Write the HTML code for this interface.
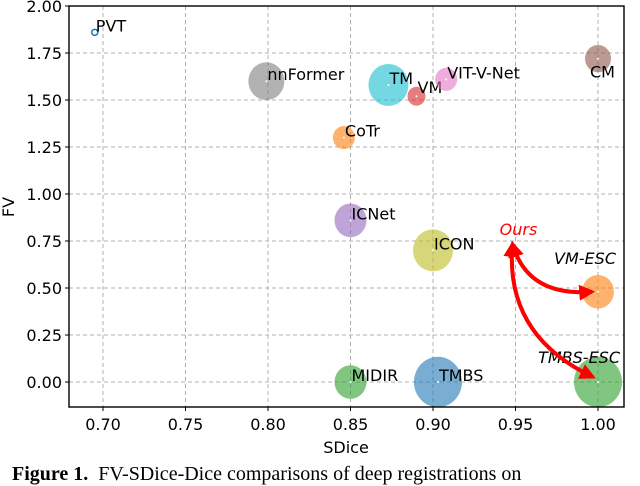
<!DOCTYPE html>
<html><head><meta charset="utf-8"><style>
body{margin:0;background:#fff;width:640px;height:481px;overflow:hidden}
text{font-family:"DejaVu Sans","Liberation Sans",sans-serif}
</style></head><body>
<svg id="chart" width="640" height="481" xmlns="http://www.w3.org/2000/svg">
<defs>
<marker id="ah" viewBox="0 0 10 10" refX="8" refY="5" markerWidth="4" markerHeight="4" orient="auto-start-reverse"><path d="M0,0L10,5L0,10z" fill="#ff0000"/></marker>
</defs>
<g id="grid"></g>
<g id="marks"></g>
<g id="axes"></g>
</svg>
<script>
const names=["PVT","nnFormer","TM","VM","VIT-V-Net","CM","CoTr","ICNet","ICON","VM-ESC","MIDIR","TMBS","TMBS-ESC"];
const sdice=[0.695,0.799,0.873,0.890,0.908,1.0,0.846,0.850,0.900,1.0,0.850,0.903,1.0];
const fv=[1.86,1.60,1.58,1.52,1.61,1.72,1.30,0.86,0.70,0.48,0.0,0.0,0.0];
const sizes=[3,18,20,9,11,13,11,16,20,16,16,24,24];
const colors=["#1f77b4","#7f7f7f","#17becf","#d62728","#e377c2","#8c564b","#ff7f0e","#9467bd","#bcbd22","#ff7f0e","#2ca02c","#1f77b4","#2ca02c"];
const xTicks=[0.70,0.75,0.80,0.85,0.90,0.95,1.00];
const yTicks=[0.00,0.25,0.50,0.75,1.00,1.25,1.50,1.75,2.00];
const L=69,R=624,T=6,B=407;
const X=v=>103+(v-0.70)/0.05*82.5;
const Y=v=>382-v/0.25*47;
const NS="http://www.w3.org/2000/svg";
function mk(tag,attrs,parent,txt){const e=document.createElementNS(NS,tag);for(const k in attrs)e.setAttribute(k,attrs[k]);if(txt!==undefined)e.textContent=txt;parent.appendChild(e);return e;}
const grid=document.getElementById('grid'),marks=document.getElementById('marks'),axes=document.getElementById('axes');
xTicks.forEach(t=>{const l=mk('line',{x1:X(t),x2:X(t),y1:T,y2:B,stroke:'#b0b0b0','stroke-dasharray':'4,3','stroke-width':1},grid);


mk('line',{x1:X(t),x2:X(t),y1:B,y2:B+4,stroke:'#000'},axes);
const tx=mk('text',{x:X(t),y:B+23,'text-anchor':'middle','font-size':16,fill:'#000'},axes,t.toFixed(2));

});
yTicks.forEach(t=>{const l=mk('line',{x1:L,x2:R,y1:Y(t),y2:Y(t),stroke:'#b0b0b0','stroke-dasharray':'4,3','stroke-width':1},grid);


mk('line',{x1:L-4,x2:L,y1:Y(t),y2:Y(t),stroke:'#000'},axes);
const tx=mk('text',{x:L-7,y:Y(t)+6,'text-anchor':'end','font-size':16,fill:'#000'},axes,t.toFixed(2));

});
const frame=mk('rect',{x:L,y:T,width:R-L,height:B-T,fill:'none',stroke:'#000','stroke-width':1.4},axes);


const xl=mk('text',{x:346,y:453,'text-anchor':'middle','font-size':16},axes,'SDice');


const yl=mk('text',{x:14,y:207,'text-anchor':'middle','font-size':16,transform:'rotate(-90 14 207)'},axes,'FV');


names.forEach((n,i)=>{const cx=X(sdice[i]),cy=Y(fv[i]);
let c;
if(i===0){c=mk('circle',{cx,cy,r:3,fill:'none',stroke:colors[i],'stroke-width':1.5},marks);}
else{c=mk('ellipse',{cx,cy,rx:sizes[i],ry:sizes[i]*1.05,fill:colors[i],'fill-opacity':0.6},marks);}


mk('circle',{cx,cy,r:1,fill:'#fff'},marks);
let tx,ty,anchor='start',style='normal';
if(n==="CM"){tx=cx-8;ty=cy+19;}
else if(n==="VM-ESC"){tx=cx+18;ty=cy-28;anchor='end';style='italic';}
else if(n==="TMBS-ESC"){tx=cx+22;ty=cy-19;anchor='end';style='italic';}
else {tx=cx+1;ty=cy-1;}
if(n==="VM"){tx=cx+1;ty=cy-3;}
const t=mk('text',{x:tx,y:ty,'font-size':16,'text-anchor':anchor,'font-style':style,fill:'#000'},marks,n);

});
const ours=mk('text',{x:X(0.95)+3,y:Y(0.77)-2,'font-size':16,'font-style':'italic','text-anchor':'middle',fill:'#ff0000'},marks,'Ours');


const ox=X(0.95)-3,oy=Y(0.75)+3;
const a1=mk('path',{d:`M${X(1.0)-6},${Y(0.48)} Q${ox+15},${Y(0.48)+5} ${ox},${oy}`,fill:'none',stroke:'#ff0000','stroke-width':4,'marker-start':'url(#ah)','marker-end':'url(#ah)'},marks);


const a2=mk('path',{d:`M${X(1.0)-5},${Y(0.0)-5} Q${ox-8},${Y(0.25)} ${ox},${oy}`,fill:'none',stroke:'#ff0000','stroke-width':4,'marker-start':'url(#ah)','marker-end':'url(#ah)'},marks);


</script>
<div style="position:absolute;left:12px;top:463px;font-family:'Liberation Serif',serif;font-size:20px;white-space:nowrap"><b>Figure 1.</b>&nbsp; FV-SDice-Dice comparisons of deep registrations on</div>
</body></html>
